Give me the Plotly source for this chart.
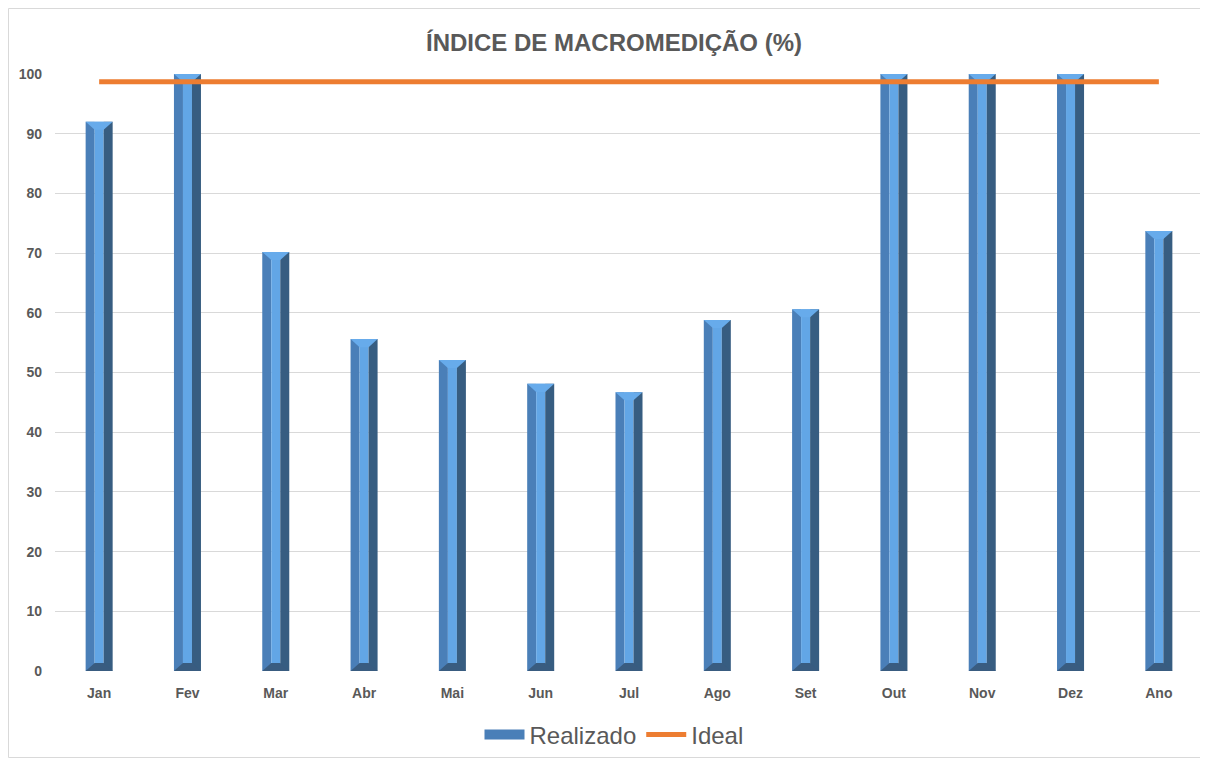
import plotly.graph_objects as go

months = ["Jan", "Fev", "Mar", "Abr", "Mai", "Jun", "Jul", "Ago", "Set", "Out", "Nov", "Dez", "Ano"]
realizado = [92.0, 100.0, 70.2, 55.6, 52.1, 48.1, 46.7, 58.8, 60.6, 100.0, 100.0, 100.0, 73.7]
ideal = [98.7] * len(months)
y_ticks = [0, 10, 20, 30, 40, 50, 60, 70, 80, 90, 100]

C_LEFT = "#4A7FB8"
C_MID = "#62A6E6"
C_RIGHT = "#375D81"
C_TOP = "#67ABEB"
C_BOT = "#395C80"
GREY = "#595959"
FONT = "Liberation Sans, Arial, sans-serif"

xs = list(range(len(months)))
W3 = 0.102   # width of each face (category units)
HALF = 1.5 * W3
BEV = 1.35   # bevel depth (value units)

fig = go.Figure()

# three faces of each bar
fig.add_trace(go.Bar(x=xs, y=realizado, width=W3, offset=-HALF, marker=dict(color=C_LEFT, line=dict(width=0)),
                     name="Realizado", showlegend=False, hoverinfo="skip"))
fig.add_trace(go.Bar(x=xs, y=realizado, width=W3, offset=-HALF + W3, marker=dict(color=C_MID, line=dict(width=0)),
                     showlegend=False, hoverinfo="skip"))
fig.add_trace(go.Bar(x=xs, y=realizado, width=W3, offset=-HALF + 2 * W3, marker=dict(color=C_RIGHT, line=dict(width=0)),
                     showlegend=False, hoverinfo="skip"))

# bevel caps (top light, bottom dark)
for i, v in zip(xs, realizado):
    fig.add_trace(go.Scatter(
        x=[i - HALF, i + HALF, i + W3 / 2, i - W3 / 2, i - HALF],
        y=[v, v, v - BEV, v - BEV, v],
        fill="toself", fillcolor=C_TOP, mode="lines", line=dict(width=0, color=C_TOP),
        showlegend=False, hoverinfo="skip"))
    fig.add_trace(go.Scatter(
        x=[i - HALF, i + HALF, i + W3 / 2, i - W3 / 2, i - HALF],
        y=[0, 0, BEV, BEV, 0],
        fill="toself", fillcolor=C_BOT, mode="lines", line=dict(width=0, color=C_BOT),
        showlegend=False, hoverinfo="skip"))

# legend entry for the bars (wide bar-like swatch)
fig.add_trace(go.Scatter(x=[None], y=[None], mode="lines", name="Realizado",
                         line=dict(color=C_LEFT, width=14)))

fig.add_trace(go.Scatter(x=xs, y=ideal, mode="lines", name="Ideal",
                         line=dict(color="#ED7D31", width=5)))

# figure is drawn at an 8px page offset
FW, FH = 1200, 750
L, R, T, B = 47, 5, 66, 87
pw, ph = FW - L - R, FH - T - B
fig.add_shape(type="rect", xref="paper", yref="paper",
              x0=(0.5 - L) / pw, x1=(FW - 0.5 - L) / pw,
              y0=(FH - B - (FH - 0.5)) / ph, y1=(FH - B - 0.5) / ph,
              line=dict(color="#D9D9D9", width=1), fillcolor="rgba(0,0,0,0)", layer="below")

fig.update_layout(
    width=FW, height=FH,
    margin=dict(l=L, r=R, t=T, b=B, autoexpand=False),
    paper_bgcolor="white", plot_bgcolor="white",
    barmode="overlay",
    title=dict(text="ÍNDICE DE MACROMEDIÇÃO (%)", x=(614 - 8) / FW, xanchor="center",
               y=1 - 35 / FH, yanchor="middle",
               font=dict(family=FONT, size=24, color=GREY, weight="bold")),
    xaxis=dict(range=[-0.5, len(months) - 0.5], tickvals=xs, ticktext=months, showgrid=False,
               zeroline=False, showline=False, ticks="", ticklabelstandoff=12,
               tickfont=dict(family=FONT, size=14, color=GREY, weight="bold")),
    yaxis=dict(range=[0, 100], tickvals=y_ticks, showgrid=True, gridcolor="#D9D9D9", gridwidth=1,
               zeroline=False, showline=False, ticks="", ticklabelstandoff=12,
               tickfont=dict(family=FONT, size=14, color=GREY, weight="bold")),
    legend=dict(orientation="h", x=(614 - 8 - L) / pw, xanchor="center", y=(FH - B - 727) / ph, yanchor="middle",
                font=dict(family=FONT, size=24, color=GREY), itemwidth=40, traceorder="normal",
                bgcolor="rgba(0,0,0,0)"),
    showlegend=True,
)

fig.write_html("out.html")
